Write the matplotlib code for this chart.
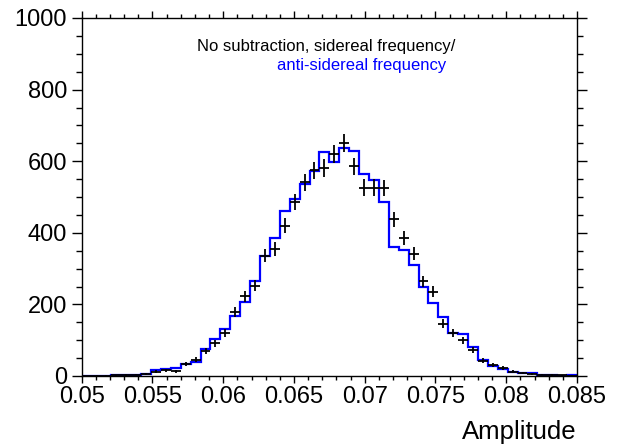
import numpy as np
import matplotlib
matplotlib.use("Agg")
import matplotlib.pyplot as plt
from matplotlib.ticker import MultipleLocator

plt.rcParams['font.family'] = ['Liberation Sans', 'DejaVu Sans']

x_min, x_max = 0.05, 0.085
n_bins = 50

blue_counts = [1, 1, 1, 2, 3, 3, 6, 17, 20, 23,
               33, 39, 76, 102, 130, 167, 208, 265, 336, 386,
               462, 494, 535, 572, 625, 598, 636, 628, 565, 548,
               487, 360, 351, 310, 248, 204, 165, 121, 116, 80,
               44, 29, 19, 11, 8, 7, 4, 3, 1, 2]

black_counts = [0, 1, 1, 2, 3, 4, 5, 12, 16, 13,
                34, 45, 71, 91, 120, 178, 223, 252, 336, 355,
                420, 487, 541, 575, 581, 620, 650, 586, 526, 526,
                525, 438, 386, 342, 264, 235, 146, 120, 100, 72,
                43, 30, 22, 12, 8, 6, 4, 3, 2, 1]

x_ticks = [0.05, 0.055, 0.06, 0.065, 0.07, 0.075, 0.08, 0.085]
x_tick_labels = ["0.05", "0.055", "0.06", "0.065", "0.07", "0.075", "0.08", "0.085"]
y_ticks = [0, 200, 400, 600, 800, 1000]

edges = np.linspace(x_min, x_max, n_bins + 1)
centers = 0.5 * (edges[:-1] + edges[1:])
half_w = 0.5 * (edges[1] - edges[0])
black = np.array(black_counts, dtype=float)

fig = plt.figure(figsize=(6.21, 4.45), dpi=100)
ax = fig.add_axes([81.7 / 621, 1 - 376 / 445, (577 - 81.7) / 621, (376 - 18) / 445])

ax.stairs(blue_counts, edges, color=(0, 0, 1), linewidth=1.6, baseline=None)
ax.errorbar(centers, black, yerr=np.sqrt(black), xerr=half_w, fmt='none',
            ecolor='black', elinewidth=1.3, capsize=0)

ax.set_xlim(x_min, x_max)
ax.set_ylim(0, 1000)
ax.set_xticks(x_ticks)
ax.set_xticklabels(x_tick_labels)
ax.set_yticks(y_ticks)
ax.xaxis.set_minor_locator(MultipleLocator(0.001))
ax.yaxis.set_minor_locator(MultipleLocator(50))

ax.tick_params(axis='x', which='major', direction='out', length=5, width=1,
               labelsize=17, pad=2.5, top=True)
ax.tick_params(axis='x', which='minor', direction='out', length=3, width=1, top=True)
ax.tick_params(axis='y', which='major', direction='out', length=7.5, width=1,
               labelsize=17, pad=3, right=True)
ax.tick_params(axis='y', which='minor', direction='out', length=4, width=1, right=True)

for s in ax.spines.values():
    s.set_linewidth(1.0)

ax.set_xlabel("Amplitude", fontsize=18.5, loc='right', labelpad=8)

ax.text(0.493, 0.919, "No subtraction, sidereal frequency/", transform=ax.transAxes,
        ha='center', va='center', fontsize=12, color='black')
ax.text(0.566, 0.866, "anti-sidereal frequency", transform=ax.transAxes,
        ha='center', va='center', fontsize=12, color=(0, 0, 1))

fig.savefig("out.png", dpi=100)
